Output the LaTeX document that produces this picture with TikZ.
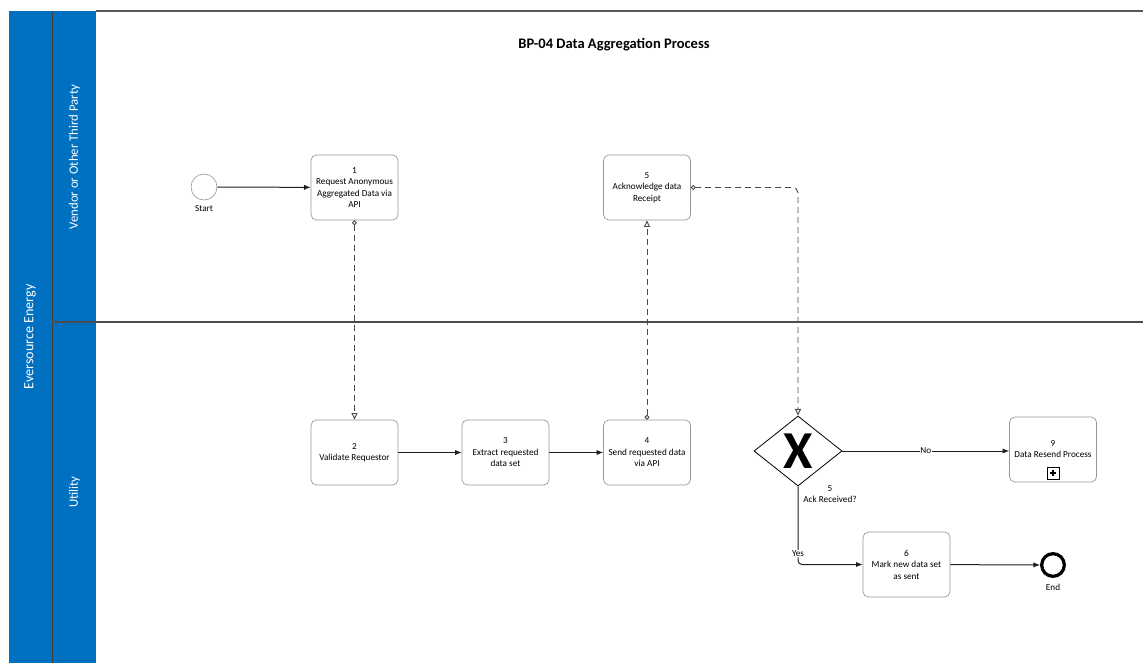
\documentclass[tikz,border=0pt]{standalone}
\usepackage{fontspec}
\setmainfont{Carlito}
\usetikzlibrary{arrows.meta,shapes.geometric}
\definecolor{poolblue}{RGB}{0,112,192}
\definecolor{taskgray}{RGB}{150,150,150}
\definecolor{flowdark}{RGB}{30,30,30}
\definecolor{msggray}{RGB}{75,75,75}
\begin{document}
\begin{tikzpicture}[x=0.75pt,y=-0.75pt,
  font=\fontsize{6.9}{8.6}\selectfont,
  task/.style={draw=taskgray, line width=0.5pt, rounded corners=4pt, fill=white,
    minimum width=65.25pt, minimum height=48.75pt, align=center, inner sep=1pt},
  lanelabel/.style={rotate=90, text=white, font=\fontsize{9.6}{11}\selectfont},
  seqflow/.style={draw=flowdark, line width=0.75pt, -{Latex[length=5pt,width=4pt]}},
  msgflow/.style={draw=msggray, line width=0.7pt, dash pattern=on 4.5pt off 3pt,
    {Circle[open,length=3.6pt,width=3.6pt]}-{Triangle[open,length=5pt,width=4.5pt]}},
  flowlabel/.style={fill=white, inner sep=0.6pt}
]
\useasboundingbox (0,0) rectangle (1143,663);

% pool and lanes
\fill[poolblue] (9,11) rectangle (96,663);
\draw[black!75, line width=0.6pt] (52,11) -- (52,663);
\draw[black!65, line width=0.8pt] (96,11) -- (1143,11);
\draw[black!70, line width=0.8pt] (52,322) -- (1143,322);
\node[lanelabel, font=\fontsize{10.6}{12}\selectfont] (pool) at (30,337) {Eversource Energy};
\node[lanelabel] (laneA) at (74.5,157) {Vendor or Other Third Party};
\node[lanelabel] (laneB) at (74.5,492) {Utility};

% title
\node[font=\fontsize{10.9}{13}\selectfont\bfseries] (title) at (614,45) {BP-04 Data Aggregation Process};

% events
\node[circle, draw=taskgray, line width=0.5pt, minimum size=19.5pt, inner sep=0pt,
  label={[label distance=0.5pt]below:Start}] (start) at (204,187) {};
\node[circle, draw=black, line width=2.4pt, minimum size=17pt, inner sep=0pt,
  label={[label distance=1pt]below:End}] (end) at (1053,565) {};

% tasks
\node[task] (t1) at (354.5,187.5) {1\\Request Anonymous\\Aggregated Data via\\API};
\node[task] (t5) at (647,187.5) {5\\Acknowledge data\\Receipt};
\node[task] (t2) at (354.5,452.5) {2\\Validate Requestor};
\node[task] (t3) at (505.5,452.5) {3\\Extract requested\\data set};
\node[task] (t4) at (647,452.5) {4\\Send requested data\\via API};
\node[task] (t6) at (906.5,564.5) {6\\Mark new data set\\as sent};

% collapsed sub-process
\node[task] (t9) at (1053,449.5) {};
\node[align=center] (t9text) at (1053,449) {9\\Data Resend Process};
\node[draw=black, line width=0.7pt, minimum size=9pt, inner sep=0pt] (plus) at (1053,473) {};
\draw[line width=1.2pt] ([xshift=-2.6pt]plus.center) -- ([xshift=2.6pt]plus.center);
\draw[line width=1.2pt] ([yshift=-2.6pt]plus.center) -- ([yshift=2.6pt]plus.center);

% exclusive gateway
\node[diamond, draw=black, line width=0.6pt, fill=white, minimum width=66pt,
  minimum height=52.5pt, inner sep=0pt] (gw) at (798,451) {};
\node[font=\fontsize{40}{40}\selectfont\bfseries, inner sep=0pt] (gwmark) at (gw.center) {X};
\node[align=center] (gwlabel) at (830,494) {5\\Ack Received?};

% sequence flows
\draw[seqflow] (start) -- (t1);
\draw[seqflow] (t2) -- (t3);
\draw[seqflow] (t3) -- (t4);
\draw[seqflow] (gw.east) -- node[flowlabel] (nolbl) {No} (gw.east -| t9.west);
\draw[seqflow, rounded corners=3pt] (gw.south) |- node[flowlabel, pos=0.43] (yeslbl) {Yes} (t6.west);
\draw[seqflow] (t6) -- (end);

% message flows
\draw[msgflow] (t1.south) -- (t2.north);
\draw[msgflow] (t4.north) -- (t5.south);
\draw[msgflow, rounded corners=4pt] (t5.east) -| (gw.north);
\end{tikzpicture}
\end{document}
